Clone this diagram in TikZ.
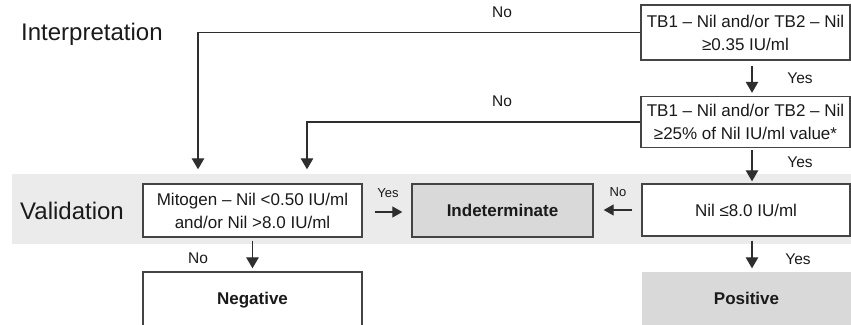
\documentclass[tikz,border=0pt]{standalone}
\usepackage{fontspec}
\setmainfont{Liberation Sans}
\usetikzlibrary{arrows.meta,calc}
\definecolor{txt}{HTML}{1A1A1A}
\definecolor{ln}{HTML}{2E2E2E}
\definecolor{bordc}{HTML}{444444}
\definecolor{band}{HTML}{EBEBEB}
\definecolor{shade}{HTML}{D9D9D9}
\begin{document}
\begin{tikzpicture}[x=1pt,y=-1pt,
  heading/.style={font=\fontsize{24}{28}\selectfont, text=txt, inner sep=0pt},
  box/.style={draw=bordc, line width=1.4pt, fill=white, inner sep=0pt, align=center,
              text=txt, font=\fontsize{17}{23}\selectfont},
  result/.style={box, font=\fontsize{17}{23}\selectfont\bfseries},
  conn/.style={draw=ln, line width=1.3pt, -{Triangle[length=11pt,width=12.5pt]}},
  sconn/.style={draw=ln, line width=1.3pt, -{Triangle[length=10pt,width=11pt]}},
  lbl/.style={font=\fontsize{15.5}{18}\selectfont, text=txt, inner sep=0pt},
  slbl/.style={font=\fontsize{13}{16}\selectfont, text=txt, inner sep=0pt}]
\useasboundingbox (0,0) rectangle (851,324);
\clip (0,0) rectangle (851,324);
\fill[band] (12,174) rectangle (851,244);
\node[heading, anchor=base west] (interp) at (21,40) {Interpretation};
\node[heading, anchor=west] (valid) at (20,211) {Validation};
% boxes
\node[box, minimum width=209pt, minimum height=55pt] (tb1) at (745.5,32.5)
  {TB1 – Nil and/or TB2 – Nil\\≥0.35 IU/ml};
\node[box, minimum width=209pt, minimum height=51pt] (tb2) at (745.5,122)
  {TB1 – Nil and/or TB2 – Nil\\≥25\% of Nil IU/ml value*};
\node[box, minimum width=219pt, minimum height=53pt] (mito) at (252.5,210.5)
  {Mitogen – Nil <0.50 IU/ml\\and/or Nil >8.0 IU/ml};
\node[result, fill=shade, minimum width=181pt, minimum height=53pt] (ind) at (502.5,210.5)
  {Indeterminate};
\node[box, minimum width=208pt, minimum height=52pt] (nil) at (746,210)
  {Nil ≤8.0 IU/ml};
\node[result, minimum width=219pt, minimum height=56pt] (neg) at (252.5,300)
  {\raisebox{2pt}{Negative}};
\node[result, draw=none, fill=shade, minimum width=209pt, minimum height=54pt] (pos) at (746.5,299)
  {\raisebox{1pt}{Positive}};
% helper columns
\coordinate (c1) at (198,0);
\coordinate (c2) at (307,0);
\coordinate (rx) at (752,0);
% connectors
\draw[conn, shorten >=14pt] (tb1.west) -| (c1 |- mito.north);
\draw[conn, shorten >=14pt] (tb2.west) -| (c2 |- mito.north);
\draw[conn, shorten <=5pt, shorten >=3pt] (tb1.south -| rx) -- (tb2.north -| rx);
\draw[conn, shorten <=2pt, shorten >=2pt] (tb2.south -| rx) -- (nil.north -| rx);
\draw[conn, shorten <=4pt, shorten >=3pt] (nil.south -| rx) -- (pos.north -| rx);
\draw[conn, shorten <=3pt, shorten >=3pt] (mito.south) -- (neg.north);
\draw[sconn, shorten <=12pt, shorten >=9pt] ($(mito.east)+(0,1.5)$) -- ($(ind.west)+(0,1.5)$);
\draw[sconn, shorten <=9pt, shorten >=10pt] (nil.west) -- (ind.east |- nil.west);
% labels
\node[lbl] (no1) at (502,12) {No};
\node[lbl] (no2) at (502,101) {No};
\node[lbl] (yes1) at (800,78) {Yes};
\node[lbl] (yes2) at (800,162) {Yes};
\node[lbl] (yes3) at (798,259) {Yes};
\node[lbl] (no3) at (198,258) {No};
\node[slbl] (yes4) at (388,193) {Yes};
\node[slbl] (no4) at (618,192) {No};
\end{tikzpicture}
\end{document}
